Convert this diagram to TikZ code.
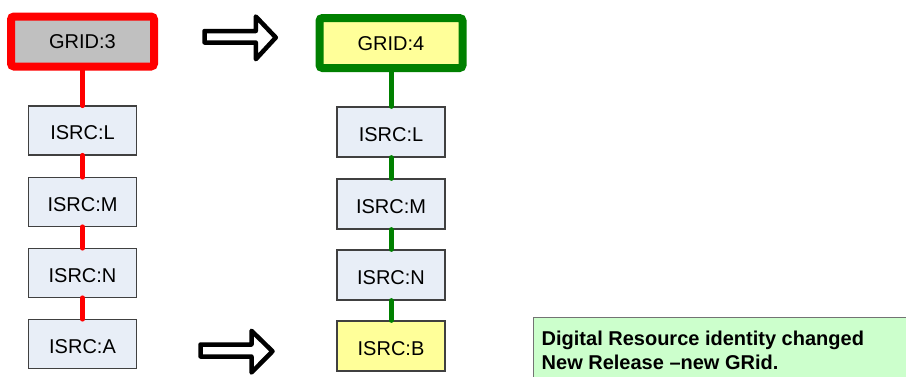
\documentclass[tikz,border=0pt]{standalone}
\usepackage{fontspec}
\setmainfont{Liberation Sans}
\begin{document}
\begin{tikzpicture}[x=1pt,y=-1pt,
  gridbox/.style={draw, line width=8pt, rounded corners=3pt, minimum width=143pt, minimum height=50pt,
    inner sep=0pt, font=\fontsize{20}{24}\selectfont, text height=14.3pt, text depth=0pt},
  isrcbox/.style={draw=black!75, fill=isrcfill, line width=1.3pt, minimum width=108pt, minimum height=49pt,
    inner sep=0pt, font=\fontsize{20}{24}\selectfont, text height=18.6pt, text depth=0pt},
  redlink/.style={draw=red, line width=5.5pt, line cap=round},
  greenlink/.style={draw=darkgreen, line width=5pt, line cap=round},
  blockarrow/.style={draw=black, fill=white, line width=4.5pt, line join=round},
  notetext/.style={anchor=base west, inner sep=0pt, font=\fontsize{20}{24}\selectfont\bfseries}
]
\definecolor{isrcfill}{HTML}{E8EEF7}
\definecolor{greyfill}{HTML}{C0C0C0}
\definecolor{yellowfill}{HTML}{FFFF99}
\definecolor{darkgreen}{HTML}{008000}
\definecolor{notefill}{HTML}{CCFFCC}
\useasboundingbox (0,0) rectangle (906,376);
\clip (0,0) rectangle (906,376);

% left column
\node[gridbox, draw=red, fill=greyfill] (g3) at (82.5,41.5) {GRID:3};
\node[isrcbox] (l1) at (82.5,130.5) {ISRC:L};
\node[isrcbox] (l2) at (82.5,202) {ISRC:M};
\node[isrcbox] (l3) at (82.5,273) {ISRC:N};
\node[isrcbox] (l4) at (82.5,344) {ISRC:A};

% right column
\node[gridbox, draw=darkgreen, fill=yellowfill] (g4) at (391,43) {GRID:4};
\node[isrcbox, minimum height=50pt] (r1) at (391,132) {ISRC:L};
\node[isrcbox, minimum height=50pt] (r2) at (391,204) {ISRC:M};
\node[isrcbox, minimum height=50pt] (r3) at (391,275) {ISRC:N};
\node[isrcbox, minimum height=50pt, fill=yellowfill] (r4) at (391,346) {ISRC:B};

% connectors
\path[redlink] (g3.south) -- (l1.north);
\path[redlink] (l1.south) -- (l2.north);
\path[redlink] (l2.south) -- (l3.north);
\path[redlink] (l3.south) -- (l4.north);
\path[greenlink] (g4.south) -- (r1.north);
\path[greenlink] (r1.south) -- (r2.north);
\path[greenlink] (r2.south) -- (r3.north);
\path[greenlink] (r3.south) -- (r4.north);

% block arrows
\path[blockarrow] (204.5,31) -- (255.8,31) -- (255.8,16.5) -- (275.8,37.5) -- (255.8,59.2)
  -- (255.8,42.5) -- (204.5,42.5) -- cycle;
\path[blockarrow] (200.5,344.5) -- (251.5,344.5) -- (251.5,330.8) -- (272.5,351.3) -- (251.5,372.5)
  -- (251.5,356.5) -- (200.5,356.5) -- cycle;

% note
\node[draw=black!55, fill=notefill, line width=1.3pt, anchor=north west, minimum width=400pt,
  minimum height=80pt, inner sep=0pt] (note) at (533,317) {};
\node[notetext] (n1) at (541.5,345) {Digital Resource identity changed};
\node[notetext] (n2) at (541.5,369) {New Release \textendash new GRid.};
\end{tikzpicture}
\end{document}
